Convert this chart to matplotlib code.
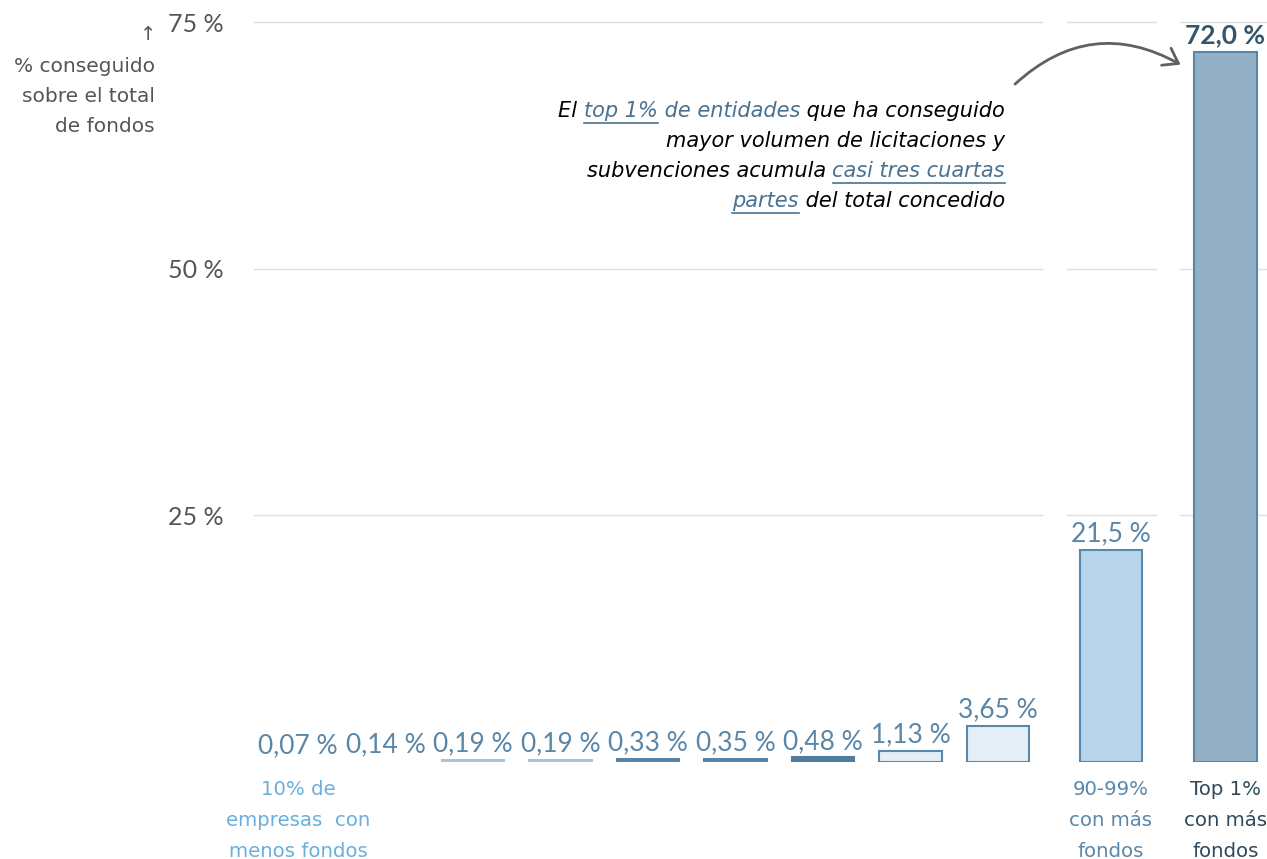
import matplotlib
matplotlib.use("Agg")
import numpy as np
import matplotlib.pyplot as plt
from matplotlib.patches import FancyArrowPatch
from matplotlib.lines import Line2D

plt.rcParams['font.family'] = ['Lato', 'DejaVu Sans']

# data
values = [0.07, 0.14, 0.19, 0.19, 0.33, 0.35, 0.48, 1.13, 3.65, 21.5, 72.0]
value_labels = ['0,07 %', '0,14 %', '0,19 %', '0,19 %', '0,33 %', '0,35 %',
                '0,48 %', '1,13 %', '3,65 %', '21,5 %', '72,0 %']
y_ticks = [25, 50, 75]
y_tick_labels = ['25 %', '50 %', '75 %']
cat_labels = {0: '10% de\nempresas  con\nmenos fondos',
              9: '90-99%\ncon más\nfondos',
              10: 'Top 1%\ncon más\nfondos'}
ylabel_lines = ['% conseguido', 'sobre el total', 'de fondos']

# styles
face = ['none', 'none', '#a9c3d7', '#a9c3d7', '#5785a8', '#5785a8', '#4f7da0',
        '#e4eef6', '#e4eef6', '#b8d5ec', '#94b0c6']
edge = ['none', 'none', '#a9c3d7', '#a9c3d7', '#5785a8', '#5785a8', '#4f7da0',
        '#5a88aa', '#5a88aa', '#5a88aa', '#5a86a6']
cat_colors = {0: '#6aafdc', 9: '#5a88aa', 10: '#2f4a5c'}
val_color = '#5a86a8'
wide = ['DejaVu Sans']

# bar positions: 9 equal steps then two wider gaps
pos = list(range(9)) + [9.29, 10.6]
W, H = 1267, 859
fig = plt.figure(figsize=(W / 100, H / 100), dpi=100)
ax = fig.add_axes([254 / W, (H - 762) / H, (W - 254) / W, 740 / H])
ax.set_xlim((254 - 298) / 87.5, (W - 298) / 87.5)
ax.set_ylim(0, 75)

# broken gridlines
xl, xr = ax.get_xlim()
segs = [(xl, (pos[8] + pos[9]) / 2 - 0.14),
        ((pos[8] + pos[9]) / 2 + 0.14, (pos[9] + pos[10]) / 2 - 0.14),
        ((pos[9] + pos[10]) / 2 + 0.14, xr)]
for yt in y_ticks:
    for a, b in segs:
        ax.plot([a, b], [yt, yt], color='#dedede', lw=1, zorder=0, clip_on=False)

ax.bar(pos, values, width=0.71, color=face, edgecolor=edge, linewidth=1.5, zorder=2)

for i, (p, v, lbl) in enumerate(zip(pos, values, value_labels)):
    last = i == len(values) - 1
    ax.annotate(lbl, (p, v), xytext=(0, 6), textcoords='offset points',
                ha='center', va='baseline', fontsize=19,
                color='#33566e' if last else val_color,
                fontweight='bold' if last else 'normal')

for i, txt in cat_labels.items():
    ax.annotate(txt, (pos[i], 0), xytext=(0, -13), textcoords='offset points',
                ha='center', va='top', fontsize=14.2, linespacing=1.8,
                color=cat_colors[i], annotation_clip=False, family=wide)

ax.set_yticks(y_ticks, y_tick_labels)
ax.tick_params(axis='y', length=0, pad=22, labelsize=18, labelcolor='#555555')
ax.set_xticks([])
for s in ax.spines.values():
    s.set_visible(False)


def fx(px):
    return px / W


def fy(py):
    return 1 - py / H


# y axis label
fig.text(fx(148), fy(35), '↑', ha='center', va='center', fontsize=14,
         color='#555555', family=['DejaVu Sans'])
for k, line in enumerate(ylabel_lines):
    fig.text(fx(155), fy(66 + 30 * k), line, ha='right', va='center',
             fontsize=14.5, color='#555555', family=wide)

# annotation with coloured / underlined pieces
blue = '#4a7290'
note = [
    [('El ', 'k', False), ('top 1%', blue, True), (' de entidades', blue, False),
     (' que ha conseguido', 'k', False)],
    [('mayor volumen de licitaciones y', 'k', False)],
    [('subvenciones acumula ', 'k', False), ('casi tres cuartas', blue, True)],
    [('partes', blue, True), (' del total concedido', 'k', False)],
]
renderer = fig.canvas.get_renderer()
note_kw = dict(fontsize=15, style='italic', va='baseline', ha='left', family=wide)


def width(s):
    t = fig.text(0, 0, s + '|', **note_kw)
    t2 = fig.text(0, 0, '|', **note_kw)
    w = t.get_window_extent(renderer).width - t2.get_window_extent(renderer).width
    t.remove()
    t2.remove()
    return w


for k, line in enumerate(note):
    yb = 117 + 30 * k
    full = ''.join(s for s, _, _ in line)
    left = 1005 - width(full)
    prefix = ''
    for s, c, ul in line:
        x0 = left + width(prefix)
        fig.text(fx(x0), fy(yb), s, color=c, **note_kw)
        if ul:
            fig.add_artist(Line2D([fx(x0), fx(x0 + width(s))], [fy(yb + 6), fy(yb + 6)],
                                  color=c, lw=1.2))
        prefix += s

arrow = FancyArrowPatch((fx(1013), fy(86)), (fx(1183), fy(66)),
                        transform=fig.transFigure,
                        connectionstyle='arc3,rad=-0.37',
                        arrowstyle='->,head_length=0.5,head_width=0.35',
                        mutation_scale=20, lw=2, color='#606060')
fig.add_artist(arrow)

fig.savefig('out.png', dpi=100)
